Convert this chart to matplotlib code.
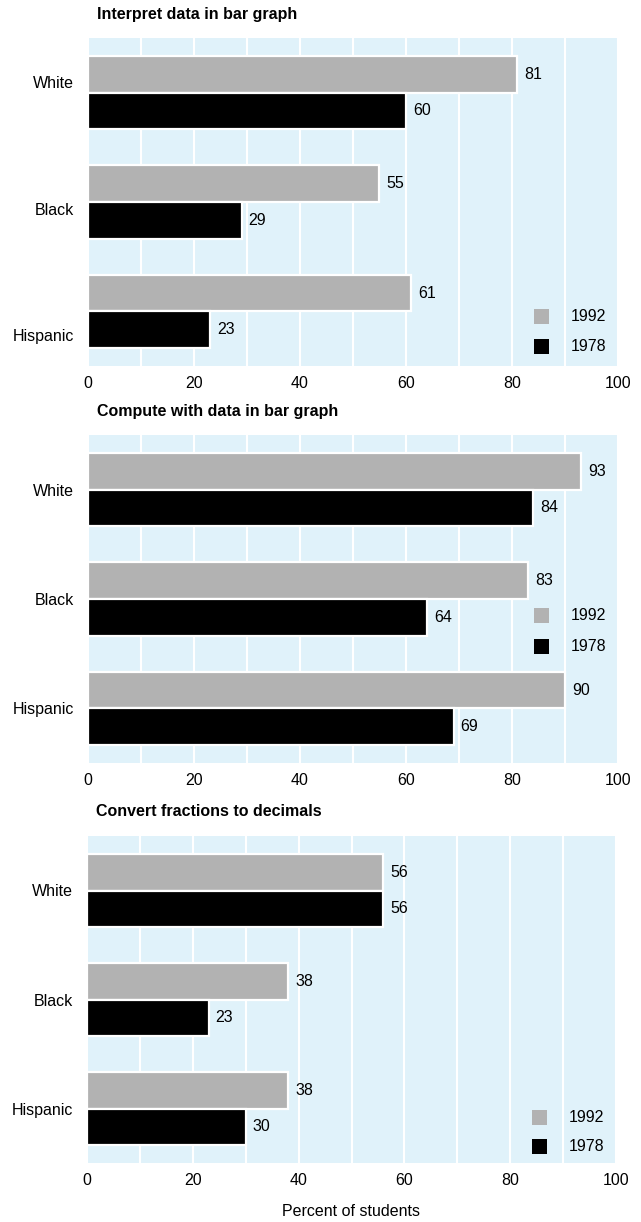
import matplotlib
matplotlib.use("Agg")
import matplotlib.pyplot as plt
from matplotlib.patches import Rectangle
import numpy as np

plt.rcParams['font.family'] = ['Liberation Sans', 'DejaVu Sans']

categories = ["White", "Black", "Hispanic"]
years = ["1992", "1978"]
titles = ["Interpret data in bar graph",
          "Compute with data in bar graph",
          "Convert fractions to decimals"]
vals_1992 = [[81, 55, 61], [93, 83, 90], [56, 38, 38]]
vals_1978 = [[60, 29, 23], [84, 64, 69], [56, 23, 30]]
xticks = [0, 20, 40, 60, 80, 100]
xlabel = "Percent of students"

BG = "#e0f2fa"
GRAY = "#b2b2b2"
BLACK = "#000000"

W, H = 641, 1222
fig = plt.figure(figsize=(W / 100, H / 100), dpi=100)

# panel boxes in pixels: left, right, top, bottom
boxes = [(88, 618, 38, 366), (88, 618, 435, 763), (87, 616, 836, 1163)]
# legend row positions (axes fraction from top) per panel
legend_y = [(0.85, 0.94), (0.55, 0.645), (0.86, 0.95)]
# label vertical shifts (data units) per panel
label_shift = [[-0.1, 0.06, 0.22], [0, 0, 0], [0, 0, 0]]

bh = 0.335
for i in range(3):
    l, r, t, b = boxes[i]
    ax = fig.add_axes([l / W, 1 - b / H, (r - l) / W, (b - t) / H])
    ax.set_facecolor(BG)
    y = np.arange(len(categories))
    ax.barh(y - bh / 2, vals_1992[i], height=bh, color=GRAY,
            edgecolor="white", linewidth=1.6, zorder=3)
    ax.barh(y + bh / 2, vals_1978[i], height=bh, color=BLACK,
            edgecolor="white", linewidth=1.6, zorder=3)
    for k in range(len(categories)):
        ax.annotate(str(vals_1992[i][k]), (vals_1992[i][k], y[k] - bh / 2),
                    xytext=(5, 0), textcoords="offset points",
                    va="center", ha="left", fontsize=11.5)
        ax.annotate(str(vals_1978[i][k]), (vals_1978[i][k], y[k] + bh / 2),
                    xytext=(5, 0), textcoords="offset points",
                    va="center", ha="left", fontsize=11.5)
    ax.set_xlim(0, 100)
    ax.set_ylim(2.5, -0.5)
    ax.set_xticks(xticks)
    ax.set_xticks(np.arange(10, 100, 10), minor=True)
    ax.grid(True, axis="x", which="both", color="white", linewidth=1.5, zorder=1)
    ax.set_axisbelow(True)
    ax.set_yticks(y + np.array(label_shift[i]))
    ax.set_yticklabels(categories)
    ax.tick_params(axis="both", which="both", length=0, labelsize=11.5)
    ax.tick_params(axis="x", pad=7)
    ax.tick_params(axis="y", pad=10)
    for s in ax.spines.values():
        s.set_visible(False)
    # title
    fig.text((l + 9) / W, 1 - (t - 24) / H, titles[i], fontsize=11.5,
             fontweight="bold", ha="left", va="center")
    # legend
    sq_w = 15 / (r - l)
    sq_h = 15 / (b - t)
    for yy, col, lab in zip(legend_y[i], [GRAY, BLACK], years):
        ax.add_patch(Rectangle((0.855 - sq_w / 2, 1 - yy - sq_h / 2), sq_w, sq_h,
                               transform=ax.transAxes, facecolor=col,
                               edgecolor="none", zorder=5, clip_on=False))
        ax.text(0.91, 1 - yy, lab, transform=ax.transAxes, fontsize=11.5,
                ha="left", va="center", zorder=5)
    if i == 2:
        ax.set_xlabel(xlabel, fontsize=11.5, labelpad=12)

fig.savefig("out.png", dpi=100, facecolor="white")
